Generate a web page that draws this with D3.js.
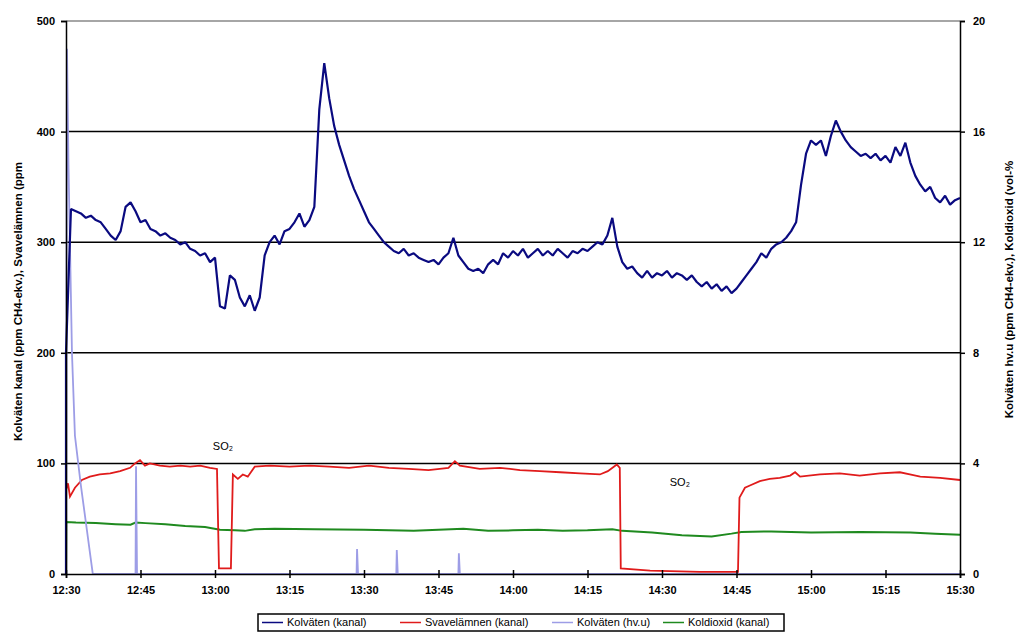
<!DOCTYPE html>
<html>
<head>
<meta charset="utf-8">
<script src="https://cdn.jsdelivr.net/npm/d3@7"></script>
<style>
  body { margin: 0; background: #fff; }
  text { font-family: "Liberation Sans", Arial, sans-serif; fill: #000; }
</style>
</head>
<body>
<div id="chart"></div>
<script>
// Minutes after 12:30 on the x axis; left axis ppm, right axis ppm / vol-%

var tickLabels = ["12:30", "12:45", "13:00", "13:15", "13:30", "13:45", "14:00",
                  "14:15", "14:30", "14:45", "15:00", "15:15", "15:30"];
var leftTicks = [0, 100, 200, 300, 400, 500];
var rightTicks = [0, 4, 8, 12, 16, 20];

var seriesNames = ["Kolväten (kanal)", "Svavelämnen (kanal)", "Kolväten (hv.u)", "Koldioxid (kanal)"];

// Kolväten (kanal), one reading per minute from 12:30
var kolvatenKanal = [200,
  330, 328, 326, 322, 324, 320, 318, 312, 306, 302,
  310, 332, 336, 328, 318, 320, 312, 310, 306, 308,
  304, 302, 298, 300, 294, 292, 288, 290, 282, 286,
  242, 240, 270, 266, 250, 242, 252, 238, 250, 288,
  300, 306, 298, 310, 312, 318, 326, 314, 320, 332,
  420, 462, 430, 405, 388, 374, 360, 348, 338, 328,
  318, 312, 306, 300, 296, 292, 290, 294, 288, 290,
  286, 284, 282, 284, 280, 286, 290, 304, 288, 282,
  276, 274, 276, 272, 280, 284, 280, 290, 286, 292,
  288, 294, 286, 290, 294, 288, 292, 288, 294, 290,
  286, 292, 290, 294, 292, 296, 300, 298, 306, 322,
  296, 282, 276, 278, 272, 268, 274, 268, 272, 270,
  274, 268, 272, 270, 266, 270, 264, 260, 264, 258,
  262, 256, 260, 254, 258, 264, 270, 276, 282, 290,
  286, 294, 298, 300, 304, 310, 318, 352, 380, 392,
  388, 392, 378, 396, 410, 400, 392, 386, 382, 378,
  380, 376, 380, 374, 378, 372, 386, 378, 390, 372,
  360, 352, 346, 350, 340, 336, 342, 334, 338, 340];

// Svavelämnen (kanal): [minute, ppm]
var svavelamnen = [
  [0, 76], [0.4, 82], [0.8, 70], [1.8, 78], [3.2, 85], [4.8, 88], [6.8, 90],
  [8.9, 91], [10.9, 93], [12.9, 96], [13.9, 100], [14.9, 103], [15.9, 98],
  [16.9, 100], [18.9, 98], [20.9, 97], [23, 98], [25, 97], [27, 98], [29, 96],
  [30.4, 95], [30.8, 5], [33.2, 5], [33.6, 90], [34.6, 86], [35.6, 90], [36.6, 88],
  [38, 97], [41, 98], [45, 97], [49, 98], [53, 97], [57, 96], [61, 98], [65, 96],
  [69, 95], [73, 94], [77, 96], [78.3, 102], [79.3, 98], [83.3, 95], [87.4, 96],
  [91.4, 94], [95.4, 93], [99.5, 92], [103.5, 91], [107.5, 90], [109.1, 93],
  [110.3, 97], [110.9, 99], [111.5, 96], [111.7, 5], [117.6, 3], [127.6, 2],
  [135.3, 2], [135.6, 69], [136.7, 78], [137.7, 80], [139.7, 84], [141.7, 86],
  [143.7, 87], [145.8, 89], [146.8, 92], [147.8, 88], [151.8, 90], [155.8, 91],
  [159.8, 89], [163.9, 91], [167.9, 92], [169.9, 90], [172, 88], [176, 87], [180, 85]];

// Kolväten (hv.u): [minute, right-axis units]
var kolvatenHvu = [
  [0, 0], [0.2, 19.0], [0.5, 14.8], [1.2, 8.0], [1.8, 5.0], [3, 3.2], [5.4, 0],
  [14.0, 0], [14.1, 3.9], [14.3, 0],
  [58.5, 0], [58.6, 0.9], [58.8, 0],
  [66.5, 0], [66.6, 0.87], [66.8, 0],
  [79.0, 0], [79.1, 0.75], [79.3, 0],
  [180, 0]];

// Koldioxid (kanal): [minute, vol-%]
var koldioxid = [
  [0, 0], [0.05, 1.88], [2, 1.86], [6, 1.84], [10, 1.80], [13, 1.78], [14, 1.86],
  [16, 1.84], [20, 1.80], [24, 1.74], [28, 1.70], [31, 1.60], [34, 1.58], [36, 1.56],
  [38, 1.62], [42, 1.64], [50, 1.62], [60, 1.60], [70, 1.56], [75, 1.60], [80, 1.64],
  [85, 1.56], [90, 1.58], [95, 1.60], [100, 1.56], [105, 1.58], [110, 1.62],
  [112, 1.56], [118, 1.50], [124, 1.40], [130, 1.36], [134, 1.46], [136, 1.52],
  [142, 1.54], [150, 1.50], [160, 1.52], [170, 1.50], [175, 1.46], [180, 1.42]];

var margin = { top: 21, right: 68, bottom: 61, left: 66 },
    width = 1028 - margin.left - margin.right,
    height = 635 - margin.top - margin.bottom;

var svg = d3.select("#chart").append("svg")
    .attr("width", 1028)
    .attr("height", 635);

var g = svg.append("g")
    .attr("transform", "translate(" + margin.left + "," + margin.top + ")");

var x = d3.scaleLinear().domain([0, 180]).range([0, width]);
var yLeft = d3.scaleLinear().domain([0, 500]).range([height, 0]);
var yRight = d3.scaleLinear().domain([0, 20]).range([height, 0]);

// grid lines and frame
g.selectAll(".grid")
    .data(leftTicks.filter(function(d) { return d > 0 && d < 500; }))
  .enter().append("line")
    .attr("x1", 0).attr("x2", width)
    .attr("y1", function(d) { return yLeft(d); })
    .attr("y2", function(d) { return yLeft(d); })
    .attr("stroke", "#000")
    .attr("stroke-width", 1.5);

g.append("line")
    .attr("x1", 0).attr("x2", width).attr("y1", 0).attr("y2", 0)
    .attr("stroke", "#888").attr("stroke-width", 1.5);

// series
var lineLeft = d3.line()
    .x(function(d) { return x(d[0]); })
    .y(function(d) { return yLeft(d[1]); });
var lineRight = d3.line()
    .x(function(d) { return x(d[0]); })
    .y(function(d) { return yRight(d[1]); });

var bluePoints = [[0, 0]].concat(kolvatenKanal.map(function(v, i) { return [i, v]; }));

g.append("path")
    .datum(koldioxid)
    .attr("fill", "none")
    .attr("stroke", "#1f8a1f")
    .attr("stroke-width", 2)
    .attr("d", lineRight);

g.append("path")
    .datum(svavelamnen)
    .attr("fill", "none")
    .attr("stroke", "#e01b1b")
    .attr("stroke-width", 1.8)
    .attr("d", lineLeft);

g.append("path")
    .datum(kolvatenHvu)
    .attr("fill", "none")
    .attr("stroke", "#9d9de6")
    .attr("stroke-width", 1.8)
    .attr("d", lineRight);

g.append("path")
    .datum(bluePoints)
    .attr("fill", "none")
    .attr("stroke", "#0a0a80")
    .attr("stroke-width", 2.2)
    .attr("stroke-linejoin", "bevel")
    .attr("d", lineLeft);

// axes, drawn over the series
var leftAxis = g.append("g")
    .call(d3.axisLeft(yLeft).tickValues(leftTicks).tickSize(5).tickPadding(6));
var rightAxis = g.append("g")
    .attr("transform", "translate(" + width + ",0)")
    .call(d3.axisRight(yRight).tickValues(rightTicks).tickSize(5).tickPadding(8));
var bottomAxis = g.append("g")
    .attr("transform", "translate(0," + height + ")")
    .call(d3.axisBottom(x).tickValues(d3.range(0, 181, 15))
      .tickFormat(function(d, i) { return tickLabels[i]; })
      .tickSize(4).tickPadding(8));

bottomAxis.selectAll(".tick line").attr("y1", -4);

[leftAxis, rightAxis, bottomAxis].forEach(function(a) {
  a.select(".domain").attr("stroke", "#000").attr("stroke-width", 1.5);
  a.selectAll(".tick line").attr("stroke", "#000").attr("stroke-width", 1.5);
  a.selectAll("text")
      .style("font-family", "'Liberation Sans', Arial, sans-serif")
      .style("font-size", "11px")
      .style("font-weight", "bold")
      .attr("fill", "#000");
});

// axis titles
svg.append("text")
    .attr("transform", "translate(22," + (margin.top + height / 2 + 4) + ") rotate(-90)")
    .attr("text-anchor", "middle")
    .style("font-size", "11.5px")
    .style("font-weight", "bold")
    .text("Kolväten kanal (ppm CH4-ekv.), Svavelämnen (ppm");

svg.append("text")
    .attr("transform", "translate(1013," + (margin.top + height / 2 - 8) + ") rotate(-90)")
    .attr("text-anchor", "middle")
    .style("font-size", "11.5px")
    .style("font-weight", "bold")
    .text("Kolväten hv.u (ppm CH4-ekv.), Koldioxid (vol-%");

// SO2 annotations
var notes = [[31.6, 112], [123.6, 80]];
g.selectAll(".note")
    .data(notes)
  .enter().append("text")
    .attr("x", function(d) { return x(d[0]); })
    .attr("y", function(d) { return yLeft(d[1]); })
    .attr("text-anchor", "middle")
    .style("font-size", "11px")
    .text("SO₂");

// legend
var legendColors = ["#0a0a80", "#e01b1b", "#9d9de6", "#1f8a1f"];
var legendX = [262, 400, 552, 663];

var legend = svg.append("g");
legend.append("rect")
    .attr("x", 258).attr("y", 614)
    .attr("width", 526).attr("height", 17)
    .attr("fill", "#fff")
    .attr("stroke", "#000")
    .attr("stroke-width", 1.5);

var items = legend.selectAll(".item")
    .data(seriesNames)
  .enter().append("g")
    .attr("transform", function(d, i) { return "translate(" + legendX[i] + ",622.5)"; });

items.append("line")
    .attr("x1", 0).attr("x2", 21)
    .attr("stroke", function(d, i) { return legendColors[i]; })
    .attr("stroke-width", 1.5);

items.append("text")
    .attr("x", 25)
    .attr("dy", "0.35em")
    .style("font-size", "11px")
    .text(function(d) { return d; });
</script>
</body>
</html>
